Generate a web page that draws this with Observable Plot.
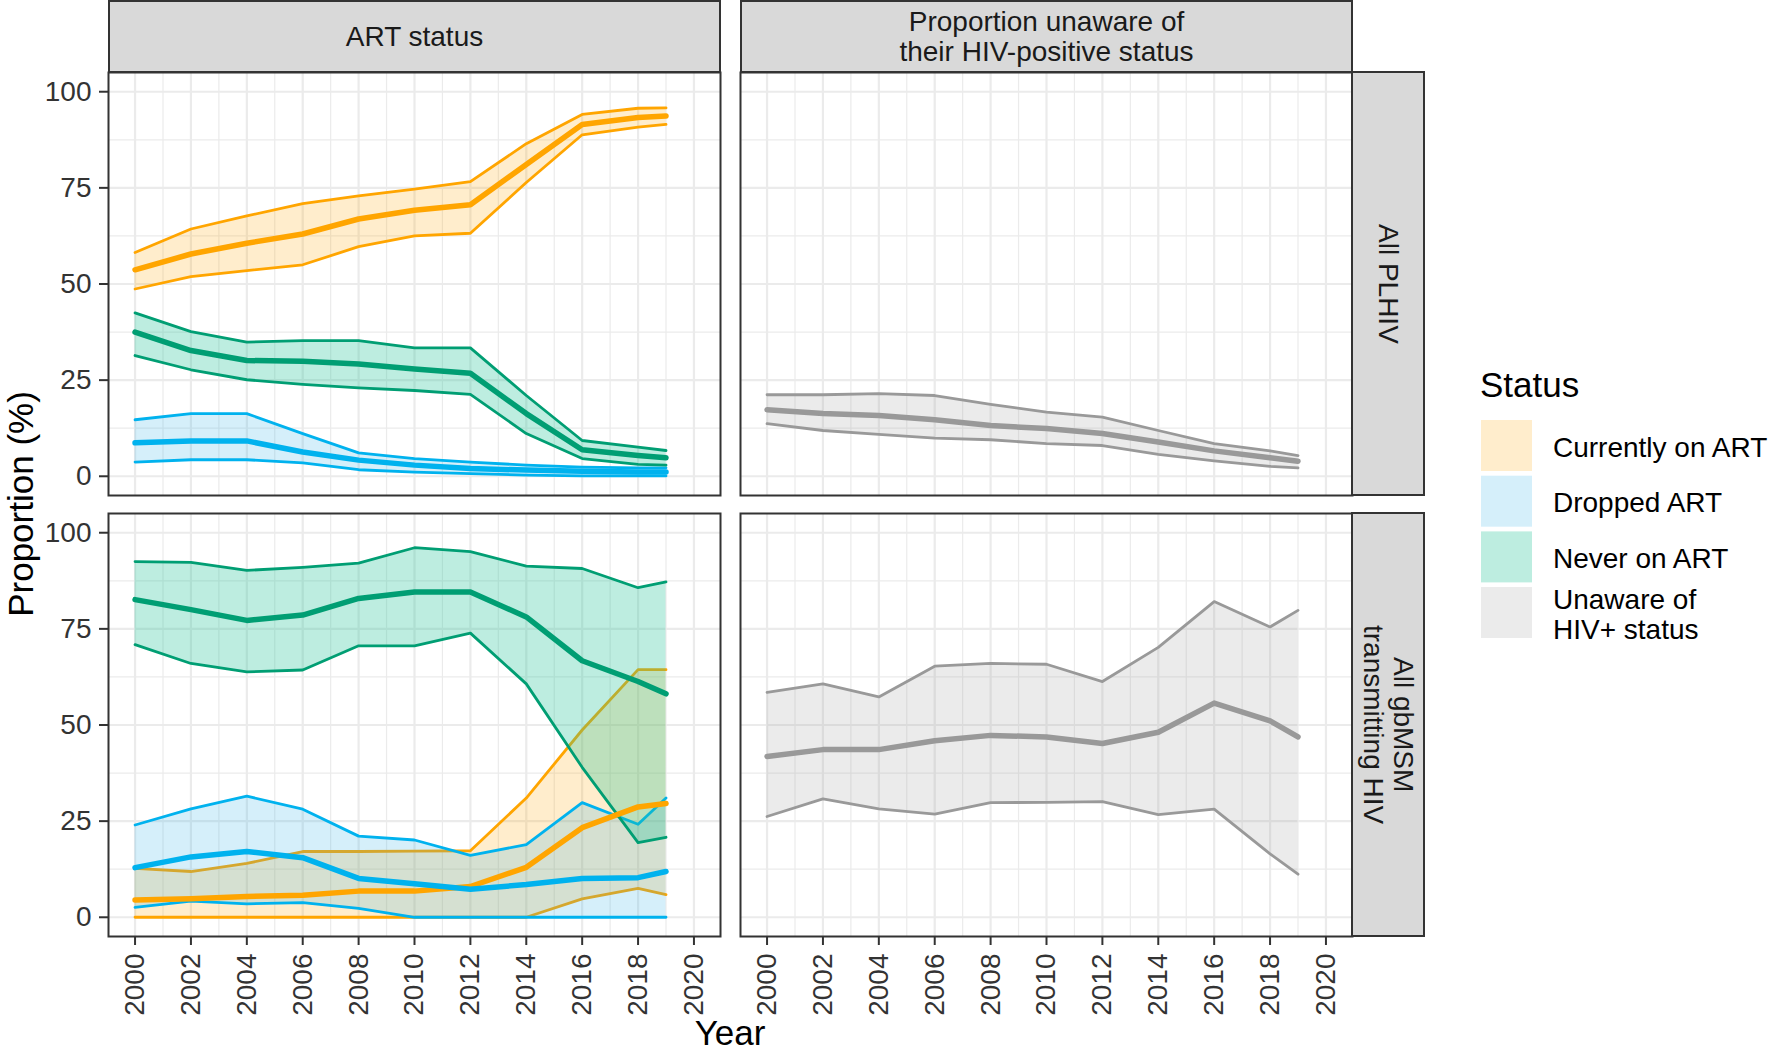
<!DOCTYPE html>
<html>
<head>
<meta charset="utf-8">
<script src="https://cdn.jsdelivr.net/npm/d3@7"></script>
<script src="https://cdn.jsdelivr.net/npm/@observablehq/plot@0.6"></script>
<style>
html, body { margin: 0; padding: 0; background: #fff; }
#chart { position: relative; width: 1771px; height: 1054px; overflow: hidden;
  font-family: "Liberation Sans", Arial, sans-serif; }
.strip { position: absolute; box-sizing: border-box; background: #D9D9D9; border: 2px solid #333;
  color: #1A1A1A; font-size: 28px; line-height: 30px; display: flex; align-items: center;
  justify-content: center; text-align: center; }
.vstrip { writing-mode: vertical-rl; }
</style>
</head>
<body>
<div id="chart"></div>
<script>
// ---------------- data ----------------
const years = [2000, 2002, 2004, 2006, 2008, 2010, 2012, 2014, 2016, 2018, 2019];
const statuses = ["Currently on ART", "Dropped ART", "Never on ART", "Unaware of HIV+ status"];

// All PLHIV — ART status
const plhivOnArtMid = [53.7, 57.8, 60.6, 63.0, 66.9, 69.2, 70.6, 81.1, 91.5, 93.3, 93.7];
const plhivOnArtLo  = [48.7, 51.9, 53.5, 55.0, 59.7, 62.5, 63.2, 76.4, 88.8, 90.8, 91.5];
const plhivOnArtHi  = [58.2, 64.3, 67.7, 70.9, 72.9, 74.7, 76.6, 86.5, 94.1, 95.7, 95.8];
const plhivDroppedMid = [8.7, 9.2, 9.2, 6.3, 4.2, 2.9, 2.0, 1.6, 1.3, 1.1, 1.1];
const plhivDroppedLo  = [3.7, 4.3, 4.3, 3.5, 1.7, 1.1, 0.7, 0.3, 0.1, 0.1, 0.1];
const plhivDroppedHi  = [14.7, 16.3, 16.3, 11.1, 6.1, 4.6, 3.7, 2.9, 2.4, 2.2, 2.2];
const plhivNeverMid = [37.5, 32.7, 30.1, 29.9, 29.2, 27.9, 26.8, 16.3, 6.9, 5.4, 4.8];
const plhivNeverLo  = [31.4, 27.7, 25.1, 23.9, 23.0, 22.3, 21.3, 11.1, 4.6, 3.1, 2.9];
const plhivNeverHi  = [42.5, 37.6, 34.9, 35.3, 35.3, 33.4, 33.4, 21.0, 9.3, 7.6, 6.7];

// All gbMSM transmitting HIV — ART status
const msmOnArtMid = [4.5, 4.8, 5.4, 5.7, 6.8, 6.8, 8.0, 13.0, 23.3, 28.7, 29.6];
const msmOnArtLo  = [0, 0, 0, 0, 0, 0, 0, 0, 4.8, 7.5, 5.9];
const msmOnArtHi  = [12.7, 11.9, 14.0, 17.1, 17.1, 17.2, 17.3, 31.0, 48.7, 64.4, 64.4];
const msmDroppedMid = [12.9, 15.7, 17.1, 15.5, 10.1, 8.7, 7.3, 8.5, 10.1, 10.3, 11.9];
const msmDroppedLo  = [2.6, 4.2, 3.5, 3.8, 2.3, 0, 0, 0, 0, 0, 0];
const msmDroppedHi  = [24.0, 28.2, 31.5, 28.1, 21.1, 20.1, 16.1, 18.9, 29.8, 24.2, 31.0];
const msmNeverMid = [82.6, 80.0, 77.2, 78.6, 82.9, 84.6, 84.6, 78.1, 66.7, 61.3, 58.1];
const msmNeverLo  = [70.9, 66.0, 63.8, 64.3, 70.6, 70.6, 73.9, 60.7, 39.0, 19.4, 20.8];
const msmNeverHi  = [92.5, 92.3, 90.2, 91.0, 92.1, 96.1, 95.1, 91.3, 90.7, 85.7, 87.2];

// Proportion unaware of their HIV-positive status
const plhivUnawareMid = [17.3, 16.3, 15.8, 14.7, 13.2, 12.4, 11.1, 8.9, 6.6, 4.8, 3.9];
const plhivUnawareLo  = [13.7, 11.9, 10.9, 9.9, 9.5, 8.5, 8.0, 5.7, 4.0, 2.6, 2.2];
const plhivUnawareHi  = [21.2, 21.2, 21.5, 21.0, 18.7, 16.7, 15.4, 11.9, 8.5, 6.6, 5.4];
const msmUnawareMid = [41.8, 43.6, 43.6, 45.9, 47.3, 46.9, 45.2, 48.1, 55.7, 51.1, 46.9];
const msmUnawareLo  = [26.2, 30.8, 28.2, 26.8, 29.8, 29.9, 30.1, 26.7, 28.1, 16.5, 11.2];
const msmUnawareHi  = [58.5, 60.7, 57.3, 65.3, 66.0, 65.8, 61.3, 70.2, 82.1, 75.5, 79.8];

// ticks
const xTicks = [2000, 2002, 2004, 2006, 2008, 2010, 2012, 2014, 2016, 2018, 2020];
const xMinor = [2001, 2003, 2005, 2007, 2009, 2011, 2013, 2015, 2017, 2019];
const yTicks = [0, 25, 50, 75, 100];
const yMinor = [12.5, 37.5, 62.5, 87.5];

const colTitles = ["ART status", "Proportion unaware of\ntheir HIV-positive status"];
const rowTitles = ["All PLHIV", "All gbMSM\ntransmitting HIV"];

// ---------------- styles ----------------
const lineColor = {"Currently on ART": "#FFA500", "Dropped ART": "#00B2EE", "Never on ART": "#009E73", "Unaware of HIV+ status": "#999999"};
const fillColor = {"Currently on ART": "#FFA500", "Dropped ART": "#2DAFE6", "Never on ART": "#26C398", "Unaware of HIV+ status": "#999999"};
const fillAlpha = {"Currently on ART": 0.2, "Dropped ART": 0.2, "Never on ART": 0.3, "Unaware of HIV+ status": 0.2};

function series(status, mid, lo, hi) {
  return years.map((year, i) => ({year, status, mid: mid[i], lo: lo[i], hi: hi[i]}));
}

const panels = [
  {row: 0, col: 0, data: [
    ...series("Currently on ART", plhivOnArtMid, plhivOnArtLo, plhivOnArtHi),
    ...series("Dropped ART", plhivDroppedMid, plhivDroppedLo, plhivDroppedHi),
    ...series("Never on ART", plhivNeverMid, plhivNeverLo, plhivNeverHi)]},
  {row: 0, col: 1, data: series("Unaware of HIV+ status", plhivUnawareMid, plhivUnawareLo, plhivUnawareHi)},
  {row: 1, col: 0, data: [
    ...series("Currently on ART", msmOnArtMid, msmOnArtLo, msmOnArtHi),
    ...series("Dropped ART", msmDroppedMid, msmDroppedLo, msmDroppedHi),
    ...series("Never on ART", msmNeverMid, msmNeverLo, msmNeverHi)]},
  {row: 1, col: 1, data: series("Unaware of HIV+ status", msmUnawareMid, msmUnawareLo, msmUnawareHi)}
];

// layout (pixels)
const colX = [[108, 720], [740, 1352]];
const rowY = [[72, 495], [513, 936]];
const FONT = "'Liberation Sans', Arial, sans-serif";

const chart = document.getElementById("chart");

for (const p of panels) {
  const [x0, x1] = colX[p.col];
  const [y0, y1] = rowY[p.row];
  const showY = p.col === 0;
  const showX = p.row === 1;
  const left = showY ? 0 : x0 - 10;
  const top = y0 - 10;
  const width = x1 + 10 - left;
  const height = showX ? 1054 - top : (y1 + 10 - top);
  const marginLeft = x0 - left, marginRight = 10, marginTop = 10, marginBottom = height - 10 - (y1 - y0);

  const present = statuses.filter(s => p.data.some(d => d.status === s));
  const marks = [
    Plot.ruleY(yMinor, {stroke: "#EBEBEB", strokeWidth: 1.2}),
    Plot.ruleX(xMinor, {stroke: "#EBEBEB", strokeWidth: 1.2}),
    Plot.ruleY(yTicks, {stroke: "#EBEBEB", strokeWidth: 2.2}),
    Plot.ruleX(xTicks, {stroke: "#EBEBEB", strokeWidth: 2.2})
  ];
  for (const s of present) {
    const d = p.data.filter(r => r.status === s);
    marks.push(Plot.areaY(d, {x: "year", y1: "lo", y2: "hi", fill: fillColor[s], fillOpacity: fillAlpha[s]}));
    marks.push(Plot.line(d, {x: "year", y: "hi", stroke: lineColor[s], strokeWidth: 2.8}));
    marks.push(Plot.line(d, {x: "year", y: "lo", stroke: lineColor[s], strokeWidth: 2.8}));
  }
  for (const s of present) {
    const d = p.data.filter(r => r.status === s);
    marks.push(Plot.line(d, {x: "year", y: "mid", stroke: lineColor[s], strokeWidth: 5.5}));
  }
  marks.push(Plot.frame({stroke: "#333", strokeWidth: 2}));
  if (showY) marks.push(Plot.axisY({ticks: yTicks, tickSize: 9, tickPadding: 8, fontSize: 28, color: "#333",
    strokeWidth: 2, tickFormat: d => String(d), label: null}));
  if (showX) marks.push(Plot.axisX({ticks: xTicks, tickSize: 9, tickPadding: 8, fontSize: 28, color: "#333",
    strokeWidth: 2, tickRotate: -90, tickFormat: d => String(d), label: null}));

  const svg = Plot.plot({
    width, height, marginLeft, marginRight, marginTop, marginBottom,
    x: {domain: [1999.05, 2020.95], axis: null},
    y: {domain: [-5, 105], axis: null},
    style: `background: transparent; overflow: visible; font-family: ${FONT};`,
    marks
  });
  svg.style.position = "absolute";
  svg.style.left = left + "px";
  svg.style.top = top + "px";
  chart.appendChild(svg);
}

// strips
colTitles.forEach((t, i) => {
  const div = document.createElement("div");
  div.className = "strip";
  div.style.left = colX[i][0] + "px";
  div.style.top = "0px";
  div.style.width = (colX[i][1] - colX[i][0] + 1) + "px";
  div.style.height = "73px";
  div.innerHTML = t.split("\n").join("<br>");
  chart.appendChild(div);
});
rowTitles.forEach((t, i) => {
  const div = document.createElement("div");
  div.className = "strip vstrip";
  div.style.left = "1351px";
  div.style.top = (rowY[i][0] - 1) + "px";
  div.style.width = "74px";
  div.style.height = (rowY[i][1] - rowY[i][0] + 2) + "px";
  div.innerHTML = t.split("\n").join("<br>");
  chart.appendChild(div);
});

// titles & legend overlay
const ov = d3.select(chart).append("svg")
  .attr("width", 1771).attr("height", 1054)
  .style("position", "absolute").style("left", "0px").style("top", "0px")
  .style("font-family", FONT);

ov.append("text").attr("x", 730).attr("y", 1045).attr("text-anchor", "middle")
  .attr("font-size", 35).attr("fill", "#000").text("Year");
ov.append("text").attr("transform", "translate(33,504) rotate(-90)").attr("text-anchor", "middle")
  .attr("font-size", 35).attr("fill", "#000").text("Proportion (%)");

ov.append("text").attr("x", 1480).attr("y", 397).attr("font-size", 35).attr("fill", "#000").text("Status");
const keyY = [420, 475.7, 531.4, 587];
const legendLabels = [["Currently on ART"], ["Dropped ART"], ["Never on ART"], ["Unaware of", "HIV+ status"]];
statuses.forEach((s, i) => {
  ov.append("rect").attr("x", 1481).attr("y", keyY[i]).attr("width", 51).attr("height", 51)
    .attr("fill", fillColor[s]).attr("fill-opacity", fillAlpha[s]);
  const lines = legendLabels[i];
  const cy = keyY[i] + 25.5;
  lines.forEach((l, j) => {
    const base = lines.length === 1 ? cy + 11 : cy - 4 + j * 30;
    ov.append("text").attr("x", 1553).attr("y", base).attr("font-size", 28).attr("fill", "#000").text(l);
  });
});
</script>
</body>
</html>
